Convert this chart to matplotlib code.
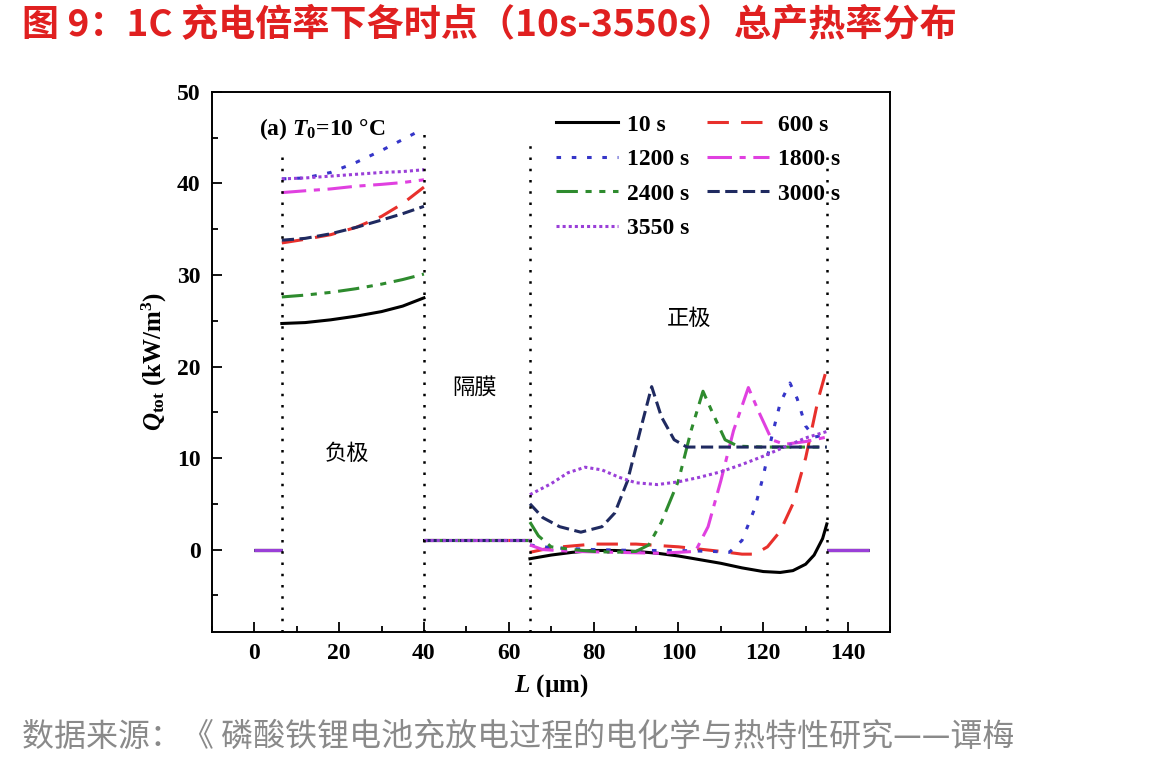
import matplotlib
matplotlib.use("Agg")
import matplotlib.pyplot as plt
from matplotlib.ticker import MultipleLocator

# ---- data ----
labels = ["10 s", "600 s", "1200 s", "1800 s", "2400 s", "3000 s", "3550 s"]

# outer regions (current collectors), Q = 0
x_left = [0, 6.5]
x_right = [135, 145]

# negative electrode
x_neg = [6.5, 12, 18, 24, 30, 35, 40]
q_neg_10 = [24.7, 24.8, 25.1, 25.5, 26.0, 26.6, 27.5]
q_neg_600 = [33.5, 33.9, 34.4, 35.2, 36.4, 37.8, 39.6]
q_neg_1200 = [40.5, 40.6, 41.2, 42.3, 43.6, 44.8, 46.0]
q_neg_1800 = [39.0, 39.2, 39.4, 39.7, 39.9, 40.1, 40.4]
q_neg_2400 = [27.6, 27.8, 28.1, 28.5, 29.0, 29.5, 30.1]
q_neg_3000 = [33.8, 34.0, 34.5, 35.2, 36.0, 36.7, 37.5]
q_neg_3550 = [40.5, 40.6, 40.8, 41.0, 41.2, 41.3, 41.5]

# separator
x_sep = [40, 65]
q_sep = [1.0, 1.0]

# positive electrode (each curve has its own sample points)
x_pos_10 = [65, 70, 75, 80, 85, 90, 95, 100, 105, 110, 115, 120, 124, 127, 130, 132, 134, 135]
q_pos_10 = [-1.0, -0.6, -0.3, -0.1, -0.1, -0.2, -0.4, -0.7, -1.1, -1.5, -2.0, -2.4, -2.5, -2.3, -1.6, -0.6, 1.2, 2.8]

x_pos_600 = [65, 70, 80, 90, 100, 110, 115, 118, 121, 124, 127, 130, 133, 135]
q_pos_600 = [-0.3, 0.2, 0.6, 0.6, 0.3, -0.2, -0.5, -0.5, 0.3, 2.0, 5.0, 10.0, 16.5, 19.8]

x_pos_1200 = [65, 70, 80, 90, 100, 108, 112, 115, 118, 120, 122, 124, 126.3, 128, 130, 132, 135]
q_pos_1200 = [0.5, 0.2, 0.0, -0.1, -0.1, -0.2, -0.3, 1.0, 4.5, 8.0, 12.3, 16.0, 18.2, 16.5, 13.5, 12.3, 12.5]

x_pos_1800 = [65, 68, 75, 85, 95, 100, 104, 107, 110, 113, 116.5, 119, 122, 125, 130, 135]
q_pos_1800 = [0.5, 0.0, -0.2, -0.3, -0.4, -0.3, -0.2, 2.5, 7.5, 13.0, 17.7, 15.0, 12.0, 11.5, 11.8, 12.3]

x_pos_2400 = [65, 67, 70, 75, 80, 85, 90, 93, 96, 100, 103, 105.8, 108, 111, 114, 120, 135]
q_pos_2400 = [3.0, 1.5, 0.3, 0.0, -0.2, -0.3, -0.2, 0.5, 3.0, 7.5, 13.0, 17.3, 15.0, 12.0, 11.3, 11.2, 11.2]

x_pos_3000 = [65, 68, 72, 77, 82, 85, 88, 91, 93.7, 96, 99, 102, 110, 135]
q_pos_3000 = [5.0, 3.5, 2.5, 1.9, 2.5, 4.0, 7.5, 13.0, 17.8, 14.5, 12.0, 11.2, 11.2, 11.2]

x_pos_3550 = [65, 70, 74, 78, 82, 86, 90, 95, 100, 105, 110, 115, 120, 125, 130, 135]
q_pos_3550 = [6.0, 7.2, 8.4, 9.0, 8.7, 7.9, 7.3, 7.1, 7.4, 7.9, 8.5, 9.3, 10.2, 11.2, 12.2, 12.9]

# domain boundaries (dotted verticals)
boundary_x = [6.5, 40, 65, 135]
boundary_top = [43.7, 46.3, 44.5, 43.8]

q_neg = [q_neg_10, q_neg_600, q_neg_1200, q_neg_1800, q_neg_2400, q_neg_3000, q_neg_3550]
x_pos = [x_pos_10, x_pos_600, x_pos_1200, x_pos_1800, x_pos_2400, x_pos_3000, x_pos_3550]
q_pos = [q_pos_10, q_pos_600, q_pos_1200, q_pos_1800, q_pos_2400, q_pos_3000, q_pos_3550]

colors = ["#000000", "#E8302C", "#3535C8", "#E040E0", "#2E8B2E", "#1F2A60", "#9A3FD8"]
dashes = [(None, None), (7, 4), (1.5, 3.5), (8, 2.5, 2, 2.5), (7, 2.5, 2, 2.5, 2, 2.5), (4, 1.8), (1, 1)]

# ---- style ----
plt.rcParams["font.family"] = ["Liberation Serif", "Noto Sans CJK SC", "DejaVu Sans"]
plt.rcParams["font.weight"] = "bold"
plt.rcParams["axes.labelweight"] = "bold"
plt.rcParams["mathtext.fontset"] = "custom"
plt.rcParams["mathtext.rm"] = "Liberation Serif:bold"
plt.rcParams["mathtext.it"] = "Liberation Serif:italic:bold"
plt.rcParams["mathtext.bf"] = "Liberation Serif:bold"

fig = plt.figure(figsize=(11.64, 7.66), dpi=100)
ax = fig.add_axes([0.182, 0.175, 0.583, 0.705])

handles = []
for i in range(len(labels)):
    c = colors[i]
    d = dashes[i]
    kw = dict(color=c, lw=2.2)
    ax.plot(x_left, [0, 0], color=c, lw=2.2, solid_capstyle="butt")
    ax.plot(x_right, [0, 0], color=c, lw=2.2, solid_capstyle="butt")
    ln, = ax.plot(x_neg, q_neg[i], label=labels[i], **kw)
    l2, = ax.plot(x_sep, q_sep, **kw)
    l3, = ax.plot(x_pos[i], q_pos[i], **kw)
    if d[0] is not None:
        for l in (ln, l2, l3):
            l.set_dashes(d)
    handles.append(ln)

ax.vlines(boundary_x, -9, boundary_top, colors="black", linestyles=(0, (1, 3.5)), lw=1.8)

ax.set_xlim(-10, 150)
ax.set_ylim(-9, 50)
ax.xaxis.set_major_locator(MultipleLocator(20))
ax.xaxis.set_minor_locator(MultipleLocator(10))
ax.yaxis.set_major_locator(MultipleLocator(10))
ax.yaxis.set_minor_locator(MultipleLocator(5))
ax.tick_params(which="both", direction="in", top=False, right=False, labelsize=17)
ax.tick_params(which="major", length=7, width=1.3, pad=8)
ax.tick_params(which="minor", length=4, width=1.3)
for s in ax.spines.values():
    s.set_linewidth(1.4)

ax.set_xlabel(r"$L$ (µm)", fontsize=18, labelpad=6)
ax.set_ylabel(r"$Q_{\rm tot}$ (kW/m$^3$)", fontsize=18, labelpad=6)

order = [0, 2, 4, 6, 1, 3, 5]
ax.legend([handles[k] for k in order], [labels[k] for k in order], ncol=2, frameon=False,
          loc="upper left", bbox_to_anchor=(0.487, 0.985), fontsize=17,
          handlelength=2.6, handletextpad=0.4, columnspacing=0.75, labelspacing=0.55,
          borderaxespad=0.2)

ax.text(0.07, 0.955, r"(a) $T_0$=10 °C", transform=ax.transAxes, fontsize=17, va="top")
cjk = dict(fontsize=16, ha="center", va="center", family="Noto Sans CJK SC", fontweight="normal")
ax.text(22, 10.5, "负极", **cjk)
ax.text(52, 17.7, "隔膜", **cjk)
ax.text(102.5, 25.2, "正极", **cjk)

fig.text(0.019, 0.966, "图 9：1C 充电倍率下各时点（10s-3550s）总产热率分布", color="#E02020",
         fontsize=26.7, fontweight="bold", va="center", family=["Noto Sans CJK SC", "DejaVu Sans"])
fig.text(0.019, 0.038, "数据来源：《 磷酸铁锂电池充放电过程的电化学与热特性研究——谭梅", color="#8A8A8A",
         fontsize=23, fontweight="normal", va="center", family=["Noto Sans CJK SC", "DejaVu Sans"])

fig.savefig("out.png", dpi=100)
